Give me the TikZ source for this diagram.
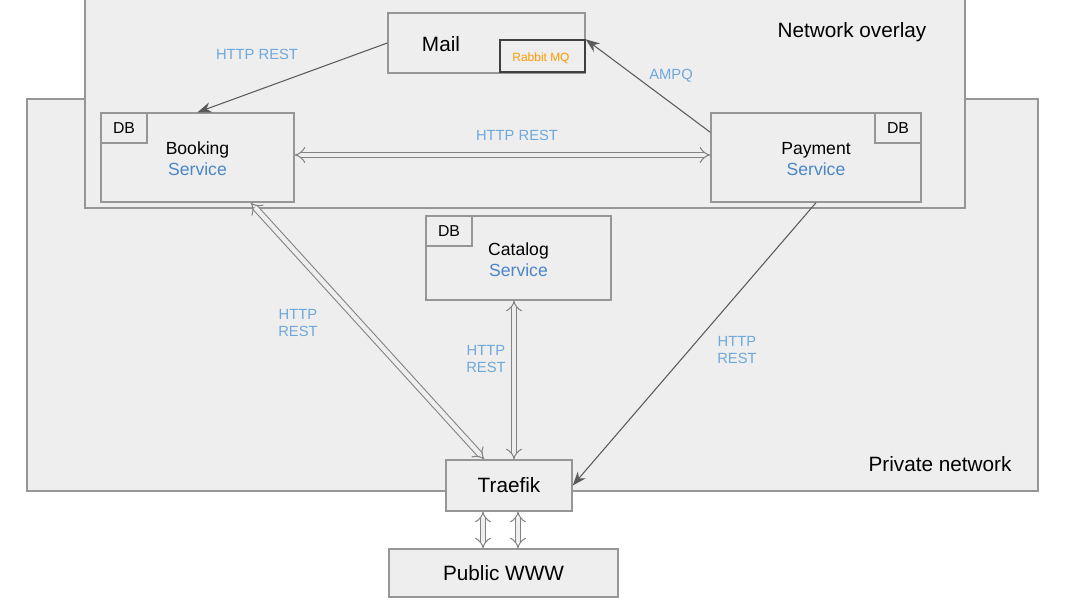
\documentclass[tikz,border=0pt]{standalone}
\usepackage{fontspec}
\setmainfont{Liberation Sans}
\usepackage{tikz}
\usetikzlibrary{arrows.meta, positioning, calc}
\definecolor{boxfill}{RGB}{238, 238, 238}
\definecolor{linegray}{RGB}{150, 150, 150}
\definecolor{arrowgray}{RGB}{90, 90, 90}
\definecolor{svcblue}{RGB}{74, 134, 200}
\definecolor{lblblue}{RGB}{111, 168, 220}
\definecolor{mqorange}{RGB}{255, 153, 0}

\begin{document}
\begin{tikzpicture}[
  x=0.02cm, y=-0.02cm,
  area/.style    = {rectangle, draw=linegray, fill=boxfill, line width=0.8pt, inner sep=0pt},
  box/.style     = {area, font=\fontsize{10}{12}\selectfont, align=center},
  svctext/.style = {font=\fontsize{10}{12}\selectfont, align=center},
  dbbox/.style   = {rectangle, draw=linegray, fill=boxfill, line width=0.8pt, inner sep=0pt,
                    minimum width=0.92cm, minimum height=0.6cm, font=\fontsize{9}{10}\selectfont},
  title/.style   = {font=\fontsize{11.8}{13}\selectfont},
  label/.style   = {font=\fontsize{8.4}{10}\selectfont, text=lblblue, align=center},
  arrow/.style   = {line width=0.6pt, draw=arrowgray, -{Stealth[length=8pt, width=6pt]}},
  dbl/.style     = {draw=arrowgray!75, double=boxfill, double distance=2.6pt, line width=0.6pt,
                    {Implies}-{Implies}}
]
\useasboundingbox (0,0) rectangle (1065,602);

% networks
\node[area, minimum width=20.22cm, minimum height=7.84cm] (private) at (532.5,295) {};
\node[area, minimum width=17.6cm, minimum height=4.26cm] (overlay) at (525,101.5) {};
\node[title] (overlaytxt) at (852,32) {Network overlay};
\node[title] (privatetxt) at (940,464) {Private network};

% services
\node[box, minimum width=3.94cm, minimum height=1.2cm] (mail) at (486.5,43) {};
\node[title] (mailtxt) at (441,44) {Mail};
\node[area, draw=arrowgray!70!black, minimum width=1.7cm, minimum height=0.64cm] (rabbit) at (542.5,56) {};
\node[font=\fontsize{6.8}{8}\selectfont, text=mqorange] (rabbittxt) at (541,58) {Rabbit MQ};

\node[box, minimum width=3.86cm, minimum height=1.78cm] (booking) at (197.5,157.5) {};
\node[svctext] (bookingtxt) at ($(booking)+(0,1.5)$) {Booking\\\textcolor{svcblue}{Service}};
\node[dbbox, anchor=north west] (bookingdb) at (booking.north west) {DB};

\node[box, minimum width=4.2cm, minimum height=1.78cm] (payment) at (816,157.5) {};
\node[svctext] (paymenttxt) at ($(payment)+(0,1.5)$) {Payment\\\textcolor{svcblue}{Service}};
\node[dbbox, anchor=north east] (paymentdb) at (payment.north east) {DB};

\node[box, minimum width=3.7cm, minimum height=1.68cm] (catalog) at (518.5,258) {};
\node[svctext] (catalogtxt) at ($(catalog)+(0,1.5)$) {Catalog\\\textcolor{svcblue}{Service}};
\node[dbbox, anchor=north west] (catalogdb) at (catalog.north west) {DB};

\node[box, title, minimum width=2.52cm, minimum height=1.02cm] (traefik) at (509,485.5) {Traefik};
\node[box, title, minimum width=4.58cm, minimum height=0.96cm] (public) at (503.5,573) {Public WWW};

% connectors
\draw[arrow] (mail.west) -- (booking.north);
\draw[arrow] ($(payment.north west)+(0,20)$) -- (rabbit.north east);
\draw[dbl] ($(booking.east)+(0,-2.5)$) -- ($(payment.west)+(0,-2.5)$);
\draw[dbl] ($(booking.south east)+(-44,0)$) -- ($(traefik.north west)+(39,0)$);
\coordinate (catlink) at ($(catalog.south)+(-4.5,0)$);
\draw[dbl] (catlink) -- (catlink |- traefik.north);
\draw[arrow] (payment.south) -- (traefik.east);
\coordinate (wwwa) at ($(traefik.south)+(-26,0)$);
\coordinate (wwwb) at ($(traefik.south)+(9,0)$);
\draw[dbl] (wwwa) -- (wwwa |- public.north);
\draw[dbl] (wwwb) -- (wwwb |- public.north);

% labels
\node[label] at (257,54) {HTTP REST};
\node[label] at (671,76) {AMPQ};
\node[label] at (517,135) {HTTP REST};
\node[label] at (298,323) {HTTP\\REST};
\node[label] at (486,359) {HTTP\\REST};
\node[label] at (737,350) {HTTP\\REST};

\end{tikzpicture}
\end{document}
